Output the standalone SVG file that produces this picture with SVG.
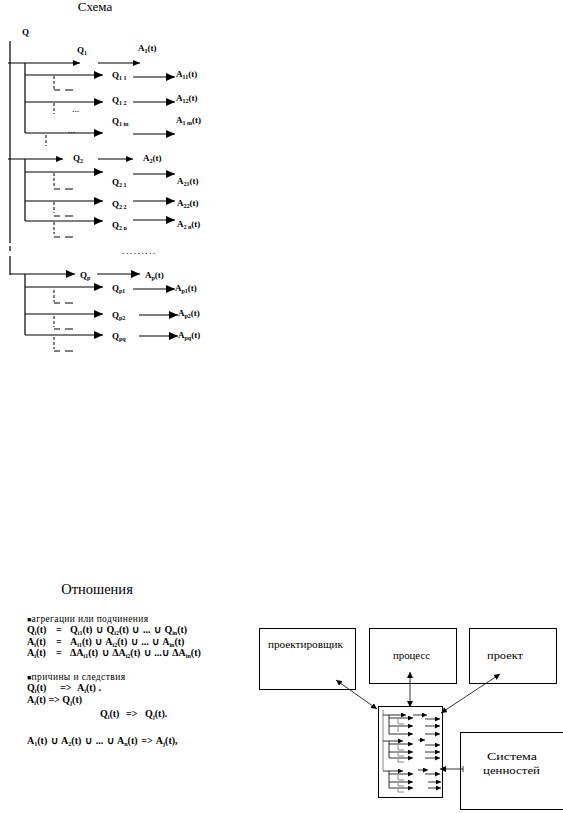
<svg xmlns="http://www.w3.org/2000/svg" width="563" height="813" viewBox="0 0 563 813">
<style>
.t{font-family:"Liberation Serif",serif;fill:#000}
.b{font-family:"Liberation Serif",serif;font-weight:bold;font-size:9px;fill:#000}
.f{font-size:10px}
.s{font-size:6px}
.n{font-family:"Liberation Serif",serif;font-size:9.5px;fill:#000}
.ln{stroke:#000;stroke-width:1.2;fill:none}
.dv{stroke:#000;stroke-width:1;fill:none;stroke-dasharray:3 2}
.dh{stroke:#000;stroke-width:1;fill:none}
.bx{stroke:#000;stroke-width:1;fill:#fff}
.th{stroke:#000;stroke-width:0.8;fill:none}
.g{stroke:#888;stroke-width:1;fill:none}
</style>
<defs>
<marker id="aS" markerUnits="userSpaceOnUse" markerWidth="8" markerHeight="6" refX="7" refY="3" orient="auto"><path d="M0 0 L7 3 L0 6 Z" fill="#000"/></marker>
<marker id="aL" markerUnits="userSpaceOnUse" markerWidth="10" markerHeight="8" refX="9" refY="4" orient="auto"><path d="M0 0 L9 4 L0 8 Z" fill="#000"/></marker>
<marker id="aT" markerUnits="userSpaceOnUse" markerWidth="7" markerHeight="6" refX="6" refY="3" orient="auto-start-reverse"><path d="M0 0 L6 3 L0 6 Z" fill="#000"/></marker>
<marker id="aM" markerUnits="userSpaceOnUse" markerWidth="6" markerHeight="5" refX="5" refY="2.5" orient="auto"><path d="M0 0 L5 2.5 L0 5 Z" fill="#000"/></marker>
</defs>

<g id="scheme">
<text class="t" x="95" y="11" font-size="13" text-anchor="middle">Схема</text>
<text class="b" x="22" y="35" font-size="10">Q</text>

<g id="scheme-lines">
<path class="ln" d="M10 41 V243 M10 246 V251 M10 256 V275"/>
<line class="ln" x1="8" y1="63" x2="80" y2="63" marker-end="url(#aS)"/>
<line class="ln" x1="98" y1="63" x2="140" y2="63" marker-end="url(#aS)"/>
<path class="ln" d="M25 63 V133"/>
<line class="ln" x1="25" y1="75" x2="103" y2="75" marker-end="url(#aL)"/>
<line class="ln" x1="133" y1="77" x2="175" y2="77" marker-end="url(#aL)"/>
<line class="ln" x1="25" y1="102" x2="103" y2="102" marker-end="url(#aL)"/>
<line class="ln" x1="133" y1="102" x2="175" y2="102" marker-end="url(#aL)"/>
<line class="ln" x1="25" y1="133" x2="103" y2="133" marker-end="url(#aL)"/>
<line class="ln" x1="133" y1="134" x2="175" y2="134" marker-end="url(#aL)"/>
<path class="dv" d="M54 76 V89"/><path class="dh" d="M54 90 H60 M65 90 H73"/>
<path class="dv" d="M54 103 V114"/>
<path class="dv" d="M46 135 V146"/>
<line class="ln" x1="8" y1="159" x2="63" y2="159" marker-end="url(#aS)"/>
<line class="ln" x1="98" y1="159" x2="133" y2="159" marker-end="url(#aS)"/>
<path class="ln" d="M25 159 V221"/>
<line class="ln" x1="25" y1="172" x2="103" y2="172" marker-end="url(#aL)"/>
<line class="ln" x1="133" y1="174" x2="175" y2="174" marker-end="url(#aL)"/>
<line class="ln" x1="25" y1="201" x2="103" y2="201" marker-end="url(#aL)"/>
<line class="ln" x1="133" y1="201" x2="175" y2="201" marker-end="url(#aL)"/>
<line class="ln" x1="25" y1="221" x2="103" y2="221" marker-end="url(#aL)"/>
<line class="ln" x1="133" y1="220" x2="175" y2="220" marker-end="url(#aL)"/>
<path class="dv" d="M54 173 V188"/><path class="dh" d="M54 189 H60 M65 189 H73"/>
<path class="dv" d="M54 202 V213"/><path class="dh" d="M54 216 H60 M65 216 H73"/>
<path class="dv" d="M54 222 V234"/><path class="dh" d="M54 237 H60 M65 237 H73"/>
<line class="ln" x1="10" y1="274" x2="75" y2="274" marker-end="url(#aL)"/>
<line class="ln" x1="97" y1="274" x2="140" y2="274" marker-end="url(#aL)"/>
<path class="ln" d="M25 274 V335"/>
<line class="ln" x1="25" y1="287" x2="103" y2="287" marker-end="url(#aL)"/>
<line class="ln" x1="133" y1="289" x2="175" y2="289" marker-end="url(#aL)"/>
<line class="ln" x1="25" y1="314" x2="103" y2="314" marker-end="url(#aL)"/>
<line class="ln" x1="139" y1="315" x2="178" y2="315" marker-end="url(#aL)"/>
<line class="ln" x1="25" y1="335" x2="103" y2="335" marker-end="url(#aL)"/>
<line class="ln" x1="139" y1="336" x2="178" y2="336" marker-end="url(#aL)"/>
<path class="dv" d="M54 290 V302"/><path class="dh" d="M54 303 H60 M65 303 H73"/>
<path class="dv" d="M54 316 V327"/><path class="dh" d="M54 329 H60 M65 329 H73"/>
<path class="dv" d="M54 337 V349"/><path class="dh" d="M54 351 H60 M65 351 H73"/>
</g>

<g id="scheme-labels">
<text class="b" x="77" y="53">Q<tspan class="s" dy="2">1</tspan></text>
<text class="b" x="138" y="51">A<tspan class="s" dy="2">1</tspan><tspan dy="-2">(t)</tspan></text>
<text class="b" x="112" y="78">Q<tspan class="s" dy="2">1 1</tspan></text>
<text class="b" x="176" y="77">A<tspan class="s" dy="2">11</tspan><tspan dy="-2">(t)</tspan></text>
<text class="b" x="112" y="103">Q<tspan class="s" dy="2">1 2</tspan></text>
<text class="b" x="176" y="101">A<tspan class="s" dy="2">12</tspan><tspan dy="-2">(t)</tspan></text>
<text class="n" x="72" y="112">...</text>
<text class="b" x="112" y="124">Q<tspan class="s" dy="2">1 m</tspan></text>
<text class="b" x="176" y="123">A<tspan class="s" dy="2">1 m</tspan><tspan dy="-2">(t)</tspan></text>
<text class="n" x="68" y="133">...</text>
<text class="b" x="73" y="161">Q<tspan class="s" dy="2">2</tspan></text>
<text class="b" x="143" y="161">A<tspan class="s" dy="2">2</tspan><tspan dy="-2">(t)</tspan></text>
<text class="b" x="112" y="185">Q<tspan class="s" dy="2">2 1</tspan></text>
<text class="b" x="177" y="184">A<tspan class="s" dy="2">21</tspan><tspan dy="-2">(t)</tspan></text>
<text class="b" x="112" y="207">Q<tspan class="s" dy="2">2 2</tspan></text>
<text class="b" x="177" y="206">A<tspan class="s" dy="2">22</tspan><tspan dy="-2">(t)</tspan></text>
<text class="b" x="112" y="228">Q<tspan class="s" dy="2">2 n</tspan></text>
<text class="b" x="177" y="227">A<tspan class="s" dy="2">2 n</tspan><tspan dy="-2">(t)</tspan></text>
<text class="n" x="122" y="254" letter-spacing="1.5">.........</text>
<text class="b" x="80" y="278">Q<tspan class="s" dy="2">p</tspan></text>
<text class="b" x="145" y="278">A<tspan class="s" dy="2">p</tspan><tspan dy="-2">(t)</tspan></text>
<text class="b" x="112" y="291">Q<tspan class="s" dy="2">p1</tspan></text>
<text class="b" x="175" y="291">A<tspan class="s" dy="2">p1</tspan><tspan dy="-2">(t)</tspan></text>
<text class="b" x="112" y="318">Q<tspan class="s" dy="2">p2</tspan></text>
<text class="b" x="178" y="316">A<tspan class="s" dy="2">p2</tspan><tspan dy="-2">(t)</tspan></text>
<text class="b" x="112" y="339">Q<tspan class="s" dy="2">pq</tspan></text>
<text class="b" x="178" y="338">A<tspan class="s" dy="2">pq</tspan><tspan dy="-2">(t)</tspan></text>
</g>
</g>

<g id="relations">
<text class="t" x="97" y="594" font-size="14.5" text-anchor="middle">Отношения</text>
<text class="n" x="27" y="622" textLength="121" lengthAdjust="spacing"><tspan font-size="7">■</tspan>агрегации или подчинения</text>
<text class="b f" x="27" y="633">Q<tspan class="s" dy="2">i</tspan><tspan dy="-2">(t)</tspan></text>
<text class="b f" x="56" y="633">=</text>
<text class="b f" x="70" y="633" word-spacing="1">Q<tspan class="s" dy="2">i1</tspan><tspan dy="-2">(t) ∪ Q</tspan><tspan class="s" dy="2">i2</tspan><tspan dy="-2">(t) ∪ ... ∪ Q</tspan><tspan class="s" dy="2">in</tspan><tspan dy="-2">(t)</tspan></text>
<text class="b f" x="27" y="645">A<tspan class="s" dy="2">i</tspan><tspan dy="-2">(t)</tspan></text>
<text class="b f" x="56" y="645">=</text>
<text class="b f" x="70" y="645" word-spacing="1">A<tspan class="s" dy="2">i1</tspan><tspan dy="-2">(t)  ∪ A</tspan><tspan class="s" dy="2">i2</tspan><tspan dy="-2">(t) ∪ ... ∪ A</tspan><tspan class="s" dy="2">in</tspan><tspan dy="-2">(t)</tspan></text>
<text class="b f" x="27" y="656">A<tspan class="s" dy="2">i</tspan><tspan dy="-2">(t)</tspan></text>
<text class="b f" x="56" y="656">=</text>
<text class="b f" x="70" y="656" word-spacing="1">ΔA<tspan class="s" dy="2">i1</tspan><tspan dy="-2">(t) ∪ ΔA</tspan><tspan class="s" dy="2">i2</tspan><tspan dy="-2">(t) ∪ ...∪ ΔA</tspan><tspan class="s" dy="2">in</tspan><tspan dy="-2">(t)</tspan></text>
<text class="n" x="27" y="680" textLength="98" lengthAdjust="spacing"><tspan font-size="7">■</tspan>причины и следствия</text>
<text class="b f" x="27" y="691">Q<tspan class="s" dy="2">i</tspan><tspan dy="-2">(t)</tspan></text>
<text class="b f" x="60" y="691">=&gt;</text>
<text class="b f" x="77" y="691">A<tspan class="s" dy="2">i</tspan><tspan dy="-2">(t) .</tspan></text>
<text class="b f" x="27" y="703">A<tspan class="s" dy="2">i</tspan><tspan dy="-2">(t) =&gt; Q</tspan><tspan class="s" dy="2">j</tspan><tspan dy="-2">(t)</tspan></text>
<text class="b f" x="100" y="717">Q<tspan class="s" dy="2">i</tspan><tspan dy="-2">(t)</tspan></text>
<text class="b f" x="126" y="717">=&gt;</text>
<text class="b f" x="145" y="717">Q<tspan class="s" dy="2">j</tspan><tspan dy="-2">(t).</tspan></text>
<text class="b f" x="27" y="744" word-spacing="1.2">A<tspan class="s" dy="2">1</tspan><tspan dy="-2">(t)  ∪ A</tspan><tspan class="s" dy="2">2</tspan><tspan dy="-2">(t) ∪ ... ∪  A</tspan><tspan class="s" dy="2">n</tspan><tspan dy="-2">(t) =&gt; A</tspan><tspan class="s" dy="2">j</tspan><tspan dy="-2">(t),</tspan></text>
</g>

<g id="node-proektirovshchik">
<rect class="bx" x="259.5" y="628.5" width="96" height="61"/>
<text class="n" x="268" y="648" font-size="11.5" textLength="75" lengthAdjust="spacingAndGlyphs">проектировщик</text>
</g>
<g id="node-process">
<rect class="bx" x="369.5" y="628.5" width="87" height="55"/>
<text class="n" x="393" y="659" font-size="11.5" textLength="37" lengthAdjust="spacingAndGlyphs">процесс</text>
</g>
<g id="node-proekt">
<rect class="bx" x="469.5" y="628.5" width="87" height="55"/>
<text class="n" x="487" y="659" font-size="11.5" textLength="36" lengthAdjust="spacingAndGlyphs">проект</text>
</g>
<g id="node-sistema">
<rect class="bx" x="460.5" y="732.5" width="110" height="77"/>
<text class="n" x="487" y="760" font-size="12" textLength="50" lengthAdjust="spacingAndGlyphs">Система</text>
<text class="n" x="483" y="774" font-size="12" textLength="57" lengthAdjust="spacingAndGlyphs">ценностей</text>
</g>

<g id="node-mini-scheme">
<rect class="bx" x="378.5" y="706.5" width="64" height="91"/>
<path class="g" d="M383 710 V771"/>
<g stroke="#000" stroke-width="0.8" fill="none">
<line x1="383" y1="715" x2="406" y2="715" marker-end="url(#aM)"/>
<line x1="413" y1="715" x2="427" y2="715" marker-end="url(#aM)"/>
<path d="M389 715 V734"/>
<line x1="389" y1="718" x2="413" y2="718" marker-end="url(#aM)"/>
<line x1="425" y1="719" x2="440" y2="719" marker-end="url(#aM)"/>
<line x1="389" y1="726" x2="413" y2="726" marker-end="url(#aM)"/>
<line x1="425" y1="726" x2="440" y2="726" marker-end="url(#aM)"/>
<line x1="389" y1="734" x2="413" y2="734" marker-end="url(#aM)"/>
<line x1="425" y1="734" x2="440" y2="734" marker-end="url(#aM)"/>
<line x1="383" y1="741" x2="403" y2="741" marker-end="url(#aM)"/>
<line x1="418" y1="740" x2="425" y2="740" marker-end="url(#aM)"/>
<path d="M389 741 V758"/>
<line x1="389" y1="744" x2="413" y2="744" marker-end="url(#aM)"/>
<line x1="425" y1="745" x2="440" y2="745" marker-end="url(#aM)"/>
<line x1="389" y1="752" x2="413" y2="752" marker-end="url(#aM)"/>
<line x1="425" y1="752" x2="440" y2="752" marker-end="url(#aM)"/>
<line x1="389" y1="758" x2="413" y2="758" marker-end="url(#aM)"/>
<line x1="425" y1="758" x2="440" y2="758" marker-end="url(#aM)"/>
<line x1="383" y1="771" x2="403" y2="771" marker-end="url(#aM)"/>
<line x1="418" y1="770" x2="428" y2="770" marker-end="url(#aM)"/>
<path d="M389 771 V788"/>
<line x1="389" y1="774" x2="413" y2="774" marker-end="url(#aM)"/>
<line x1="425" y1="774" x2="440" y2="774" marker-end="url(#aM)"/>
<line x1="389" y1="782" x2="413" y2="782" marker-end="url(#aM)"/>
<line x1="428" y1="782" x2="441" y2="782" marker-end="url(#aM)"/>
<line x1="389" y1="788" x2="413" y2="788" marker-end="url(#aM)"/>
<line x1="428" y1="788" x2="441" y2="788" marker-end="url(#aM)"/>
</g>
<g class="g" stroke-width="0.8">
<path d="M398 719 V724 H404"/>
<path d="M398 727 V732"/>
<path d="M398 745 V750 H404 M398 753 V756 H404 M398 759 V762 H404"/>
<path d="M398 775 V780 H404 M398 783 V786 H404 M398 789 V792 H404"/>
</g>
</g>

<g id="connectors">
<line class="th" x1="336" y1="680" x2="377" y2="709" marker-start="url(#aT)" marker-end="url(#aT)"/>
<line class="th" x1="410" y1="672" x2="410" y2="707" marker-start="url(#aT)" marker-end="url(#aT)"/>
<line class="th" x1="441" y1="713" x2="500" y2="674" marker-start="url(#aT)" marker-end="url(#aT)"/>
<line class="th" x1="463" y1="769" x2="440" y2="769" marker-end="url(#aT)"/>
<line class="th" x1="463" y1="766" x2="463" y2="772"/>
</g>
</svg>
